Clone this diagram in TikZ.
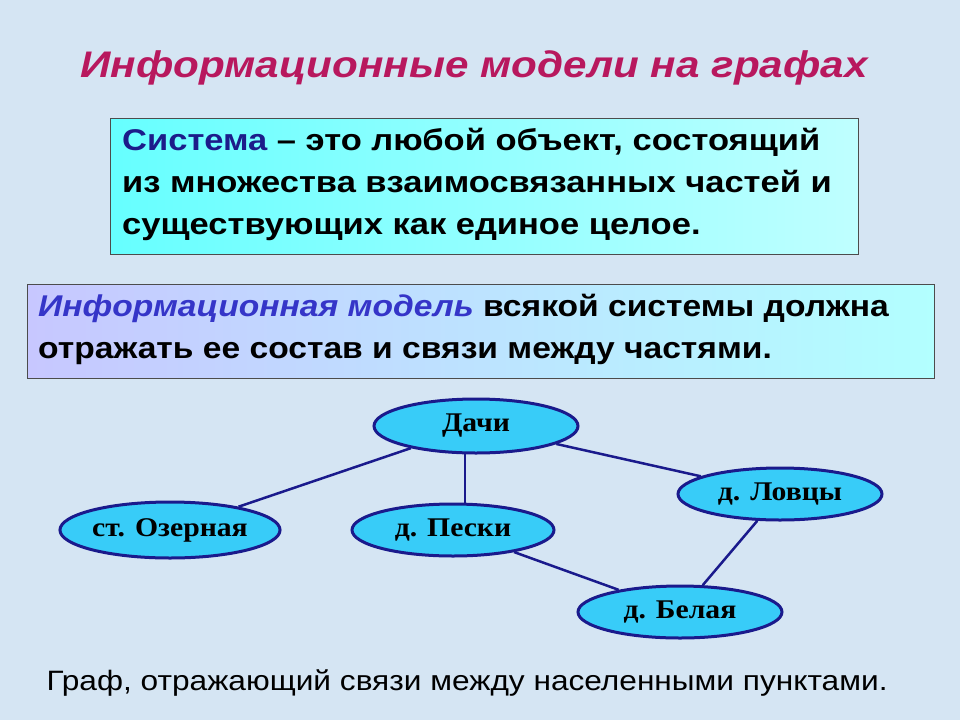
\documentclass[tikz,border=0pt]{standalone}
\usepackage{fontspec}
\setmainfont{Liberation Sans}
\newfontfamily\serifnode{Liberation Serif}
\usetikzlibrary{shapes.geometric}
\definecolor{bgc}{HTML}{D5E5F3}
\definecolor{titlec}{HTML}{B8185E}
\definecolor{edgec}{HTML}{1A1A8C}
\definecolor{nodefill}{HTML}{38CCF8}
\definecolor{sysc}{HTML}{1C1C8A}
\definecolor{imc}{HTML}{3535C8}
\newcommand{\wid}[2]{\scalebox{#1}[1]{#2}}
\tikzset{
  vert/.style={ellipse, draw=edgec, line width=3pt, fill=nodefill, inner sep=0pt,
    font=\serifnode\bfseries\fontsize{27}{30}\selectfont},
  edge/.style={draw=edgec, line width=2.5pt},
  panel/.style={draw=black!70, line width=1pt}
}
\begin{document}
\begin{tikzpicture}[x=1pt,y=-1pt]
\useasboundingbox (0,0) rectangle (960,720);
\fill[bgc] (0,0) rectangle (960,720);
\node (title) at (474,68) {\color{titlec}\bfseries\itshape\fontsize{37}{40}\selectfont\wid{1.14}{Информационные модели на графах}};
% box 1
\shade[left color=cyan!60!white, right color=cyan!25!white] (110,118) rectangle (858,254);
\draw[panel] (110,118) rectangle (858,254);
\node[anchor=north west, align=left, inner sep=0pt, font=\bfseries\fontsize{30}{42}\selectfont] (sys) at (122,128)
 {\wid{1.15}{{\color{sysc}Система} – это любой объект, состоящий}\\\wid{1.15}{из множества взаимосвязанных частей и}\\\wid{1.15}{существующих как единое целое.}};
% box 2
\shade[left color=blue!22!white, right color=cyan!30!white] (27,284) rectangle (934,378);
\draw[panel] (27,284) rectangle (934,378);
\node[anchor=north west, align=left, inner sep=0pt, font=\bfseries\fontsize{30}{42}\selectfont] (im) at (38,294)
 {\wid{1.12}{{\color{imc}\itshape Информационная модель} всякой системы должна}\\\wid{1.12}{отражать ее состав и связи между частями.}};
% graph
\node[vert, minimum width=204pt, minimum height=54pt] (dachi) at (476,426) {\wid{1.1}{Дачи}};
\node[vert, minimum width=214pt, minimum height=56pt] (oz) at (170,530) {\wid{1.1}{ст. Озерная}};
\node[vert, minimum width=202pt, minimum height=52pt] (peski) at (453,530) {\wid{1.1}{д. Пески}};
\node[vert, minimum width=204pt, minimum height=52pt] (lovcy) at (780,494) {\wid{1.1}{д. Ловцы}};
\node[vert, minimum width=204pt, minimum height=52pt] (belaya) at (680,612) {\wid{1.1}{д. Белая}};
\path[edge] (dachi) -- (oz);
\path[edge] (465,452) -- (465,504);
\path[edge] (dachi) -- (lovcy);
\path[edge] (peski) -- (belaya);
\path[edge] (lovcy) -- (belaya);
\node (caption) at (467,683) {\fontsize{28}{30}\selectfont\wid{1.13}{Граф, отражающий связи между населенными пунктами.}};
\end{tikzpicture}
\end{document}
